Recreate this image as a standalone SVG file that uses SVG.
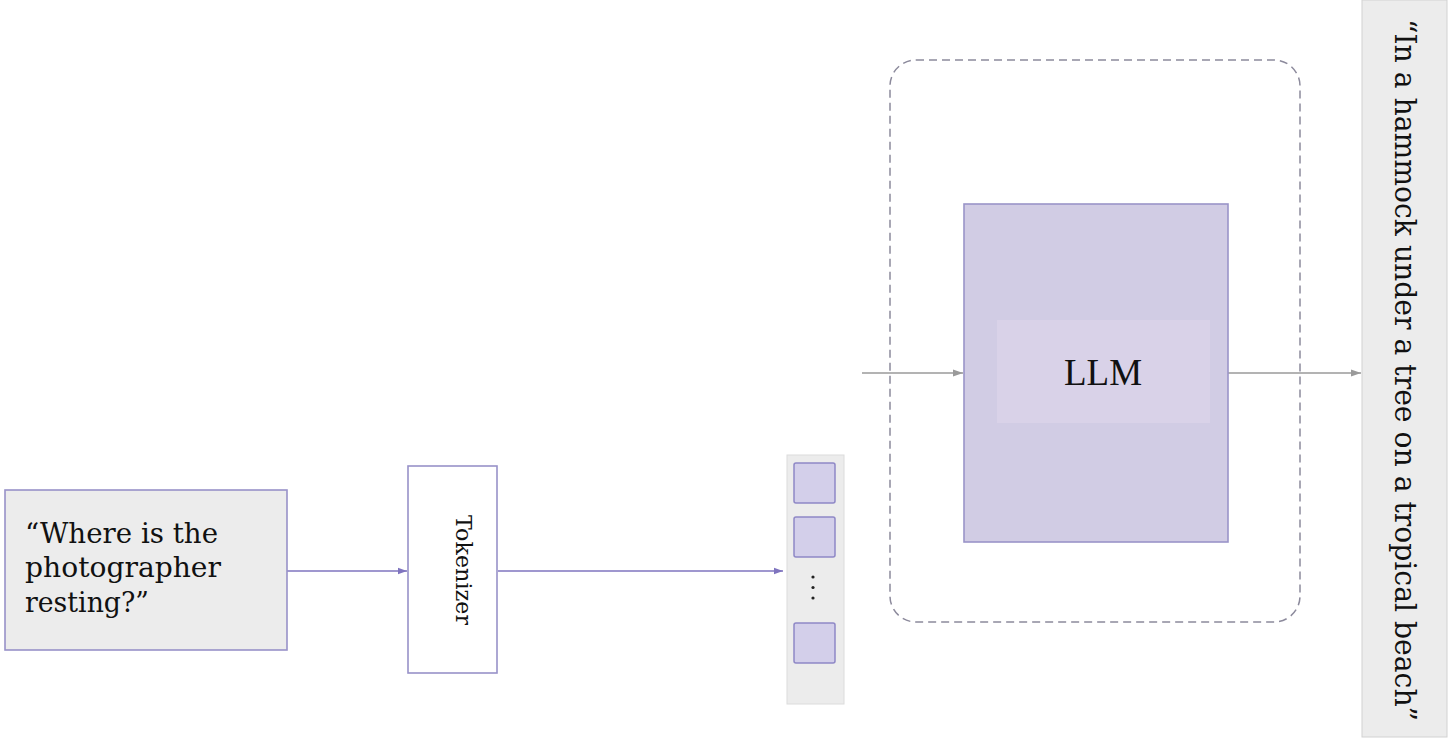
<svg xmlns="http://www.w3.org/2000/svg" width="1449" height="746" viewBox="0 0 1449 746">
<defs>
<style>
.serif{font-family:"DejaVu Serif","Liberation Serif",serif;fill:#111}
.times{font-family:"Liberation Serif","DejaVu Serif",serif;fill:#111}
.pbox{stroke:#9892c9;stroke-width:1.6}
.tok{fill:#d3cfea;stroke:#8f88c6;stroke-width:1.5}
.pline{stroke:#7f74bf;stroke-width:1.3;fill:none}
.gline{stroke:#9a9a9a;stroke-width:1.3;fill:none}
</style>
<marker id="ap" viewBox="0 0 10 10" refX="10" refY="5" markerWidth="9" markerHeight="9" markerUnits="userSpaceOnUse" orient="auto"><path d="M0,1.5 L10,5 L0,8.5 z" fill="#7f74bf"/></marker>
<marker id="ag" viewBox="0 0 10 10" refX="10" refY="5" markerWidth="10" markerHeight="10" markerUnits="userSpaceOnUse" orient="auto"><path d="M0,1.5 L10,5 L0,8.5 z" fill="#9a9a9a"/></marker>
</defs>
<rect width="1449" height="746" fill="#ffffff"/>

<g id="frame">
<rect x="890" y="60" width="410" height="562" rx="26" ry="26" fill="none" stroke="#8c8a9c" stroke-width="1.5" stroke-dasharray="8,5"/>
</g>

<g id="connectors">
<line class="pline" x1="287" y1="571" x2="407" y2="571" marker-end="url(#ap)"/>
<line class="pline" x1="498" y1="571" x2="783" y2="571" marker-end="url(#ap)"/>
<line class="gline" x1="862" y1="373" x2="963" y2="373" marker-end="url(#ag)"/>
<line class="gline" x1="1228" y1="373" x2="1361" y2="373" marker-end="url(#ag)"/>
</g>

<g id="input">
<rect class="pbox" x="5" y="490" width="282" height="160" fill="#ececec"/>
<text class="serif" font-size="28" x="25" y="543" textLength="193" lengthAdjust="spacingAndGlyphs">“Where is the</text>
<text class="serif" font-size="28" x="25" y="577" textLength="196" lengthAdjust="spacingAndGlyphs">photographer</text>
<text class="serif" font-size="28" x="25" y="612" textLength="124" lengthAdjust="spacingAndGlyphs">resting?”</text>
</g>

<g id="tokenizer">
<rect class="pbox" x="408" y="466" width="89" height="207" fill="#ffffff"/>
<text class="serif" font-size="23" transform="translate(456,570) rotate(90)" text-anchor="middle" textLength="110" lengthAdjust="spacingAndGlyphs">Tokenizer</text>
</g>

<g id="tokens">
<rect x="787" y="455" width="57" height="249" fill="#ececec" stroke="#dcdcdc" stroke-width="1"/>
<rect class="tok" x="794" y="463" width="41" height="40" rx="2"/>
<rect class="tok" x="794" y="517" width="41" height="40" rx="2"/>
<rect class="tok" x="794" y="623" width="41" height="40" rx="2"/>
<circle cx="813" cy="577" r="1.6" fill="#222"/>
<circle cx="813" cy="587.5" r="1.6" fill="#222"/>
<circle cx="813" cy="598" r="1.6" fill="#222"/>
</g>

<g id="llm">
<rect x="964" y="204" width="264" height="338" fill="#d1cce4" stroke="#9a94c8" stroke-width="1.6"/>
<rect x="997" y="320" width="213" height="103" fill="#d9d2e8"/>
<text class="times" font-size="37" x="1103" y="385" text-anchor="middle">LLM</text>
</g>

<g id="output">
<rect x="1362" y="0" width="85" height="737" fill="#ececec" stroke="#d2d2d2" stroke-width="1"/>
<text class="serif" font-size="29" transform="translate(1395,370) rotate(90)" text-anchor="middle" textLength="702" lengthAdjust="spacingAndGlyphs">“In a hammock under a tree on a tropical beach”</text>
</g>
</svg>
